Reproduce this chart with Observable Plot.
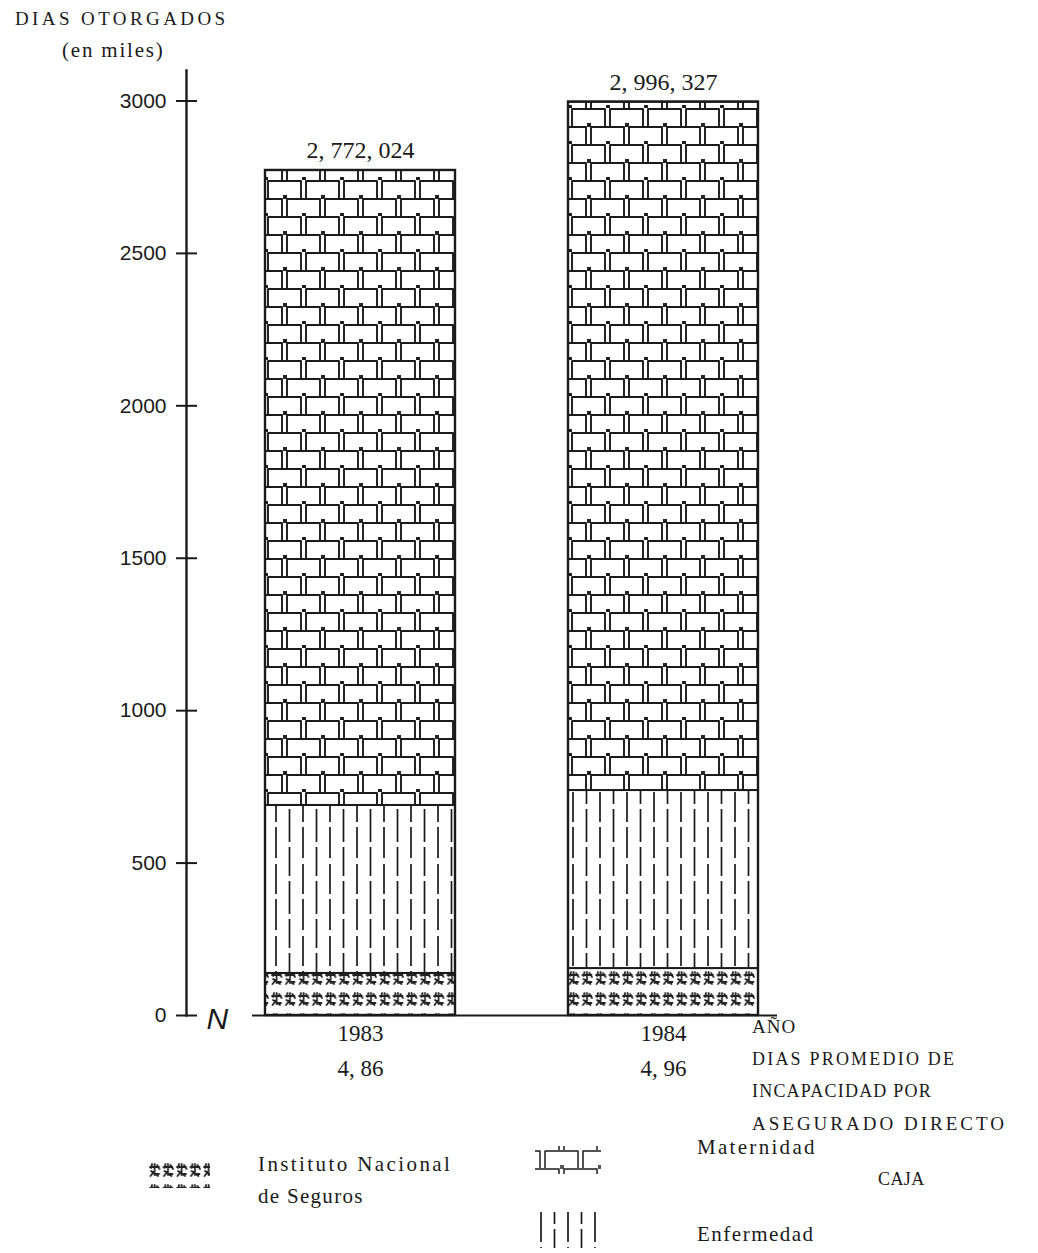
<!DOCTYPE html>
<html>
<head>
<meta charset="utf-8">
<script src="https://cdn.jsdelivr.net/npm/d3@7"></script>
<script src="https://cdn.jsdelivr.net/npm/@observablehq/plot@0.6"></script>
<style>
  html, body { margin: 0; padding: 0; background: #fff; }
  #page { position: relative; width: 1038px; height: 1253px; overflow: hidden; font-family: "Liberation Serif", "DejaVu Serif", serif; color: #1a1a1a; }
  #chart { position: absolute; left: 0; top: 0; }
  .t { position: absolute; white-space: nowrap; line-height: 1; }
  .sw { position: absolute; }
</style>
</head>
<body>
<svg width="0" height="0" style="position:absolute">
  <defs>
    <pattern id="pat-mat" patternUnits="userSpaceOnUse" width="38" height="36">
      <rect width="38" height="36" fill="#fff"/>
      <g fill="none" stroke="#1a1a1a" stroke-width="1.9" stroke-linejoin="round">
        <path d="M2 18 V1 H35 V18"/>
        <path d="M-17 36 V19 H16 V36 M21 36 V19 H54 V36"/>
        <path d="M18 15 V19 M20 15 V19"/>
        <path d="M0 33 V36 M37 33 V36 M38 33 V36 M1 33 V36"/>
      </g>
    </pattern>
    <pattern id="pat-mat-sw" patternUnits="userSpaceOnUse" width="38" height="36" x="8" y="4">
      <rect width="38" height="36" fill="#fff"/>
      <g fill="none" stroke="#1a1a1a" stroke-width="1.5" stroke-linejoin="round">
        <path d="M2 18 V1 H35 V18"/>
        <path d="M-17 36 V19 H16 V36 M21 36 V19 H54 V36"/>
        <path d="M18 15 V19 M20 15 V19"/>
      </g>
    </pattern>
    <pattern id="pat-enf" patternUnits="userSpaceOnUse" width="27" height="72">
      <rect width="27" height="72" fill="#fff"/>
      <g stroke="#1a1a1a" stroke-width="1.7">
        <path d="M6 0 V30 M6 35 V66"/>
        <path d="M19.5 0 V12 M19.5 17 V50 M19.5 55 V72"/>
      </g>
    </pattern>
    <pattern id="pat-ins" patternUnits="userSpaceOnUse" width="13.5" height="21" y="4">
      <rect width="13.5" height="21" fill="#fff"/>
      <g fill="none" stroke="#222" stroke-width="1.8" stroke-linecap="round" stroke-linejoin="round">
        <path d="M2 5 H11 M6.5 2 V13 M3 9 L10 14 M2.5 14 L6 9.5 M9 3 L11.5 7 M4 2 L3 6 M8 12 H11"/>
      </g>
    </pattern>
  </defs>
</svg>
<div id="page">
  <div id="chart"></div>
</div>
<script>
// ---- data ----
const years = ["1983", "1984"];
const series = ["Instituto Nacional de Seguros", "Enfermedad", "Maternidad"];
const ins = [138, 154];
const enfermedad = [551, 584];
const maternidad = [2083, 2258];
const totals = [2772.024, 2996.327];
const totalLabels = ["2, 772, 024", "2, 996, 327"];
const promedio = ["4, 86", "4, 96"];
const yTicks = [0, 500, 1000, 1500, 2000, 2500, 3000];
const seriesFills = ["url(#pat-ins)", "url(#pat-enf)", "url(#pat-mat)"];

const rows = years.flatMap((year, i) => [
  {year, serie: series[0], value: ins[i]},
  {year, serie: series[1], value: enfermedad[i]},
  {year, serie: series[2], value: maternidad[i]}
]);
const totalRows = years.map((year, i) => ({year, total: totals[i], label: totalLabels[i], prom: promedio[i]}));
const breakMark = [{y: 0, label: "N"}];

const serif = "Liberation Serif, DejaVu Serif, serif";
const sans = "Liberation Sans, Arial, sans-serif";

const chart = Plot.plot({
  width: 1038,
  height: 1100,
  marginLeft: 186,
  marginRight: 201,
  marginTop: 70,
  marginBottom: 85,
  style: {background: "transparent", color: "#1a1a1a"},
  x: {domain: years, paddingInner: 0.373, paddingOuter: 0.26, axis: null},
  y: {domain: [0, 3100], axis: null},
  color: {domain: series, range: seriesFills},
  marks: [
    Plot.barY(rows, {x: "year", y: "value", fill: "serie", stroke: "#1a1a1a", strokeWidth: 2}),
    Plot.barY(totalRows, {x: "year", y: "total", fill: "none", stroke: "#1a1a1a", strokeWidth: 2.4}),
    Plot.text(totalRows, {x: "year", y: "total", text: "label", dy: -20, fontSize: 24, fontFamily: serif, fill: "#1a1a1a"}),
    Plot.frame({anchor: "left", stroke: "#1a1a1a", strokeWidth: 2.4}),
    Plot.axisY(yTicks, {anchor: "left", tickSize: 21, dx: 11, tickPadding: 10, strokeWidth: 2, fontSize: 21, fontFamily: sans, tickFormat: d => String(d)}),
    Plot.ruleY([0], {insetLeft: 66, insetRight: 60, stroke: "#1a1a1a", strokeWidth: 2}),
    Plot.text(breakMark, {y: "y", text: "label", frameAnchor: "left", dx: 20, dy: 4, fontSize: 30, fontStyle: "italic", fontFamily: sans, fill: "#1a1a1a"}),
    Plot.axisX(years, {anchor: "bottom", label: null, tickSize: 0, tickPadding: 9, fontSize: 23, fontFamily: serif}),
    Plot.text(totalRows, {x: "year", y: () => 0, text: "prom", dy: 53, fontSize: 23, fontFamily: serif, fill: "#1a1a1a"})
  ]
});
document.getElementById("chart").appendChild(chart);

// ---- titles & legend (outside the SVG) ----
const page = document.getElementById("page");
function addText(str, left, cy, size, extra = {}) {
  const d = document.createElement("div");
  d.className = "t";
  d.textContent = str;
  d.style.left = left + "px";
  d.style.top = (cy - size * 0.55) + "px";
  d.style.fontSize = size + "px";
  Object.assign(d.style, extra);
  page.appendChild(d);
}
addText("DIAS OTORGADOS", 15, 19, 19, {letterSpacing: "3.4px"});
addText("(en miles)", 62, 52, 21, {letterSpacing: "1.8px"});
addText("AÑO", 752, 1027, 19, {letterSpacing: "1px"});
addText("DIAS PROMEDIO DE", 752, 1060, 18, {letterSpacing: "2.2px"});
addText("INCAPACIDAD POR", 752, 1092, 18, {letterSpacing: "1.2px"});
addText("ASEGURADO DIRECTO", 752, 1124, 19, {letterSpacing: "3px"});
addText("Instituto Nacional", 258, 1166, 21, {letterSpacing: "2.4px"});
addText("de Seguros", 258, 1198, 21, {letterSpacing: "1.3px"});
addText("Maternidad", 697, 1149, 21, {letterSpacing: "2.3px"});
addText("CAJA", 878, 1180, 18, {letterSpacing: "0.4px"});
addText("Enfermedad", 697, 1236, 21, {letterSpacing: "1.5px"});

function addSwatch(left, top, w, h, fill) {
  const ns = "http://www.w3.org/2000/svg";
  const s = document.createElementNS(ns, "svg");
  s.setAttribute("class", "sw");
  s.setAttribute("width", w);
  s.setAttribute("height", h);
  s.style.left = left + "px";
  s.style.top = top + "px";
  const r = document.createElementNS(ns, "rect");
  r.setAttribute("width", w);
  r.setAttribute("height", h);
  r.setAttribute("fill", fill);
  s.appendChild(r);
  page.appendChild(s);
}
addSwatch(148, 1158, 62, 30, seriesFills[0]);
addSwatch(535, 1146, 66, 28, "url(#pat-mat-sw)");
addSwatch(535, 1212, 66, 36, seriesFills[1]);
</script>
</body>
</html>
